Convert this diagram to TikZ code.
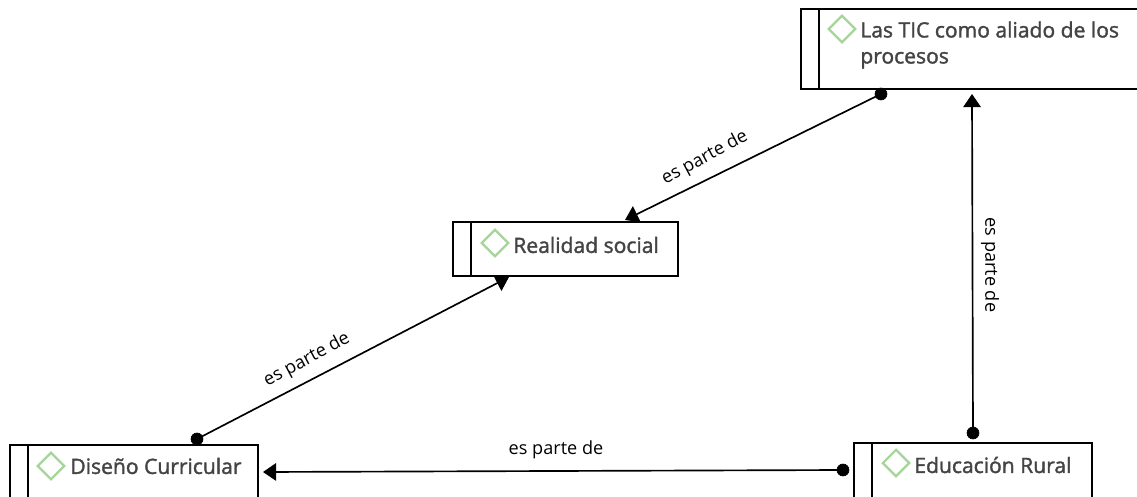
\documentclass[tikz,border=0pt]{standalone}
\usepackage{fontspec}
\setmainfont{Open Sans}
\newfontfamily\fuenteTitulo[FakeBold=1.6]{Open Sans}
\usetikzlibrary{arrows.meta}
\usetikzlibrary{shapes.geometric, positioning}
\definecolor{verdeRombo}{HTML}{A6D59A}
\definecolor{grisTexto}{HTML}{444444}
\tikzset{
  caja/.style={rectangle, draw=black, fill=white, line width=1.1pt, inner sep=0pt},
  rombo/.style={diamond, draw=verdeRombo, fill=white, line width=1.3pt, inner sep=0pt, minimum size=15.5pt},
  titulo/.style={anchor=west, inner sep=0pt, text=grisTexto, font=\fuenteTitulo\fontsize{12}{14.8}\selectfont, align=left},
  punto/.style={circle, fill=black, draw=black, inner sep=0pt, minimum size=6.8pt},
  etiqueta/.style={inner sep=0pt, font=\fontsize{10.3}{12}\selectfont},
  flecha/.style={line width=0.95pt, -{Triangle[length=7.5pt, width=10pt]}}
}
\begin{document}
\begin{tikzpicture}[x=0.02cm, y=-0.02cm]
      \useasboundingbox (0, 0) rectangle (1137, 497);
      \clip (0, 0) rectangle (1137, 497);

      % cajas
      \node[caja, minimum width=7.2cm, minimum height=1.6cm] (tic) at (981, 49) {};
      \node[caja, minimum width=4.5cm, minimum height=1.08cm] (realidad) at (565.5, 249) {};
      \node[caja, minimum width=4.96cm, minimum height=2cm] (diseno) at (134, 495) {};
      \node[caja, minimum width=4.76cm, minimum height=2cm] (educacion) at (973, 493) {};

      \draw[line width=1.1pt] (819, 9) -- (819, 89);
      \draw[line width=1.1pt] (471, 222) -- (471, 276);
      \draw[line width=1.1pt] (28, 445) -- (28, 497);
      \draw[line width=1.1pt] (872, 443) -- (872, 497);

      % rombos y textos
      \node[rombo] (romboTic) at (842, 29) {};
      \node[titulo] (textoTic) at (860, 45) {Las TIC como aliado de los\\procesos};
      \node[rombo] (romboRealidad) at (495, 243) {};
      \node[titulo] (textoRealidad) at (513, 245) {Realidad social};
      \node[rombo] (romboDiseno) at (51, 466) {};
      \node[titulo] (textoDiseno) at (70, 466) {Diseño Curricular};
      \node[rombo] (romboEducacion) at (896, 463) {};
      \node[titulo] (textoEducacion) at (914, 465) {Educación Rural};

      % conectores
      \node[punto] (a) at (881, 94) {};
      \node[punto] (b) at (973, 433) {};
      \node[punto] (c) at (843, 470) {};
      \node[punto] (d) at (197, 439) {};
      \coordinate (llegaTic) at (972, 94);
      \coordinate (llegaRealidadA) at (625, 220);
      \coordinate (llegaRealidadB) at (509, 277);
      \coordinate (llegaDiseno) at (263, 472);

      \draw[flecha] (a.center) -- (llegaRealidadA);
      \draw[flecha] (b.center) -- (llegaTic);
      \draw[flecha] (c.center) -- (llegaDiseno);
      \draw[flecha] (d.center) -- (llegaRealidadB);

      \node[etiqueta, rotate=28] (e1) at (705, 158) {es parte de};
      \node[etiqueta, rotate=-90] (e2) at (990, 265) {es parte de};
      \node[etiqueta] (e3) at (556, 450) {es parte de};
      \node[etiqueta, rotate=28] (e4) at (307, 360) {es parte de};

    \end{tikzpicture}
\end{document}
